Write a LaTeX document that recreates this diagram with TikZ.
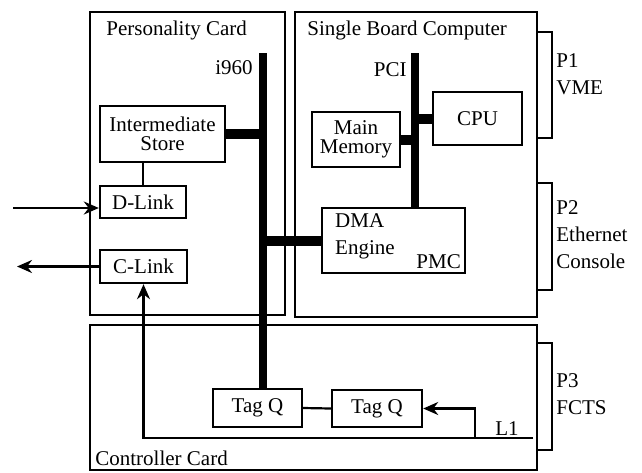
\documentclass[tikz,border=0pt]{standalone}
\usepackage{fontspec}
\setmainfont{Liberation Serif}
\usetikzlibrary{arrows.meta, positioning}

\begin{document}
\begin{tikzpicture}[x=0.5pt, y=-0.5pt, >={Stealth[length=7.5pt, width=6.5pt]},
    font=\rmfamily\fontsize{10.5}{9.5}\selectfont,
    unit/.style={draw, line width=1.2pt, inner sep=0pt, align=center},
    card/.style={draw, line width=1.3pt},
    bus/.style={line width=4pt},
    link/.style={line width=5pt},
    wire/.style={line width=1.1pt}]
    \useasboundingbox (0,0) rectangle (642,472);

    % Cards and their connectors
    \draw[card] (90,12) rectangle (285,315);
    \draw[card] (295,12) rectangle (537,317);
    \draw[card] (90,325) rectangle (537,470);
    \draw[card] (537,32) rectangle (552,138);
    \draw[card] (537,183) rectangle (552,290);
    \draw[card] (537,343) rectangle (552,450);
    \node[anchor=west, inner sep=0pt] (pcTitle) at (106,30) {Personality Card};
    \node[anchor=west, inner sep=0pt] (sbcTitle) at (307,30) {Single Board Computer};
    \node[anchor=west, inner sep=0pt] (ccTitle) at (95,458) {Controller Card};
    \node[anchor=west, inner sep=0pt, align=left, font=\fontsize{10.5}{13.5}\selectfont] (pOne) at (556,74) {P1\\VME};
    \node[anchor=west, inner sep=0pt, align=left, font=\fontsize{10.5}{13.5}\selectfont] (pTwo) at (556,235) {P2\\Ethernet\\Console};
    \node[anchor=west, inner sep=0pt, align=left, font=\fontsize{10.5}{13.5}\selectfont] (pThree) at (556,394) {P3\\FCTS};

    % Units
    \node[unit, minimum width=62.5pt, minimum height=28pt] (IStore) at (162.5,134) {Intermediate\\Store};
    \node[unit, minimum width=43pt, minimum height=16pt] (DLink) at (143,202) {D-Link};
    \node[unit, minimum width=43.5pt, minimum height=16.5pt] (CLink) at (143.5,266.5) {C-Link};
    \node[unit, minimum width=44pt, minimum height=27.5pt] (MainMem) at (356,139.5) {Main\\Memory};
    \node[unit, minimum width=44.5pt, minimum height=26.5pt] (CPU) at (477.5,118.5) {CPU};
    \node[unit, minimum width=71.5pt, minimum height=32.5pt] (DMA) at (393.5,240.5) {};
    \node[anchor=north west, inner sep=0pt, align=left] (dmaText) at ([xshift=7pt, yshift=-3pt]DMA.north west) {DMA\\[4pt]Engine};
    \node[anchor=south east, inner sep=0pt] (pmc) at ([xshift=-2.5pt, yshift=2.5pt]DMA.south east) {PMC};
    \node[unit, minimum width=44.5pt, minimum height=19pt] (TagQa) at (257.5,408) {Tag Q};
    \node[unit, minimum width=45pt, minimum height=18.5pt] (TagQb) at (377,408.5) {Tag Q};

    % Buses
    \coordinate (i960) at (263,53);
    \coordinate (pci) at (415,53);
    \node[anchor=east, inner sep=0pt] (i960Label) at (253,68) {i960};
    \node[anchor=east, inner sep=0pt] (pciLabel) at (407,70) {PCI};
    \draw[bus] (i960) -- (i960 |- TagQa.north);
    \draw[bus] (pci) -- (pci |- DMA.north);
    \draw[link] (IStore.east) -- (IStore.east -| i960);
    \draw[link] (i960 |- DMA.west) -- (DMA.west);
    \draw[link] (MainMem.east) -- (MainMem.east -| pci);
    \draw[link] (pci |- CPU.west) -- (CPU.west);

    % Links
    \coordinate (dIn) at (13,208);
    \coordinate (cOut) at (17,266.5);
    \draw[wire, ->] (dIn) -- (dIn -| DLink.west);
    \draw[wire, ->] (CLink.west) -- (cOut);
    \draw[wire] (DLink.north) -- (DLink.north |- IStore.south);
    \draw[wire] (TagQa.east) -- (TagQb.west);

    % L1
    \coordinate (lOne) at (533,438);
    \coordinate (lBranch) at (475,438);
    \draw[wire, ->] (lOne) -| (CLink.south);
    \draw[wire, ->] (lBranch) |- (TagQb.east);
    \node[inner sep=0pt] (lOneLabel) at (507,429) {L1};
\end{tikzpicture}
\end{document}
